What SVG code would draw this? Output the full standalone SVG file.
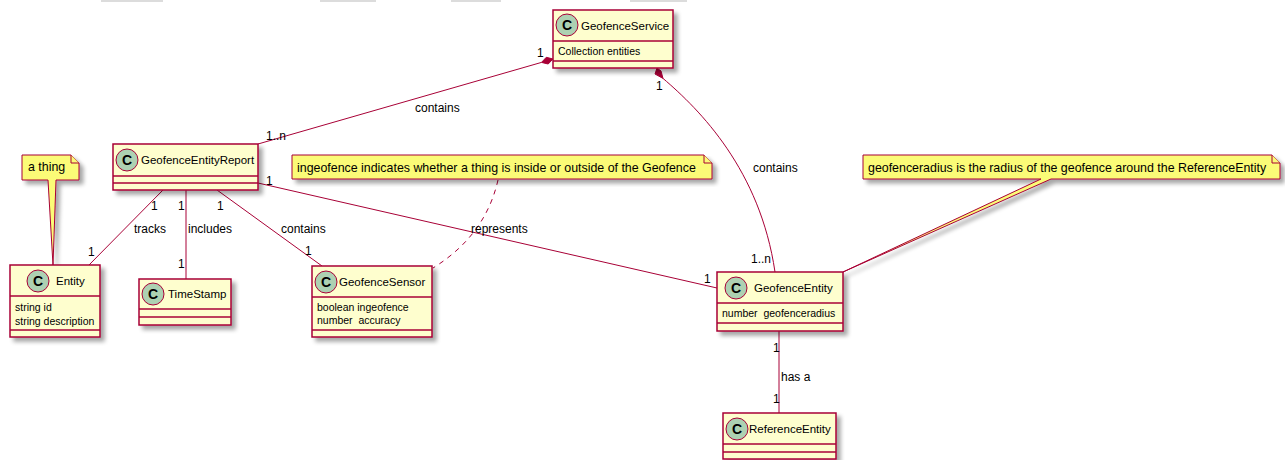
<svg xmlns="http://www.w3.org/2000/svg" width="1285" height="460" viewBox="0 0 1285 460">
  <defs>
    <filter id="shadow" x="-10%" y="-10%" width="130%" height="140%">
      <feGaussianBlur in="SourceAlpha" stdDeviation="2"/>
      <feOffset dx="4" dy="4" result="off"/>
      <feComponentTransfer><feFuncA type="linear" slope="0.35"/></feComponentTransfer>
      <feMerge><feMergeNode/><feMergeNode in="SourceGraphic"/></feMerge>
    </filter>
  </defs>
  <style>
    text { font-family: "Liberation Sans", Arial, sans-serif; fill: #000; }
    .box { fill: #FEFECE; stroke: #A80036; stroke-width: 1.5; }
    .sep { stroke: #A80036; stroke-width: 1.5; }
    .badge { fill: #ADD1B2; stroke: #A80036; stroke-width: 1; }
    .badge-letter { font-size: 14px; font-weight: bold; text-anchor: middle; }
    .name { font-size: 11.5px; }
    .attr { font-size: 10.5px; white-space: pre; }
    .note { fill: #FBFB77; stroke: #A80036; stroke-width: 1; }
    .note-text { font-size: 12.4px; }
    .edge { fill: none; stroke: #A80036; stroke-width: 1; }
    .dashed { stroke-dasharray: 5 5; }
    .diamond { fill: #A80036; stroke: #A80036; stroke-width: 1; }
    .lbl { font-size: 12px; }
    .ghost { fill: #DCDCDC; }
  </style>

  <!-- faint strips along the top edge -->
  <rect class="ghost" x="101" y="0" width="62" height="2"/>
  <rect class="ghost" x="320" y="0" width="56" height="2"/>
  <rect class="ghost" x="451" y="0" width="50" height="2"/>
  <rect class="ghost" x="630" y="0" width="57" height="2"/>

  <!-- associations -->
  <g id="connectors">
    <path class="edge" d="M258,144 L541.5,62.4"/>
    <polygon class="diamond" points="553,59 548.2,64 541.5,62.4 546.3,57.3"/>
    <path class="edge" d="M663,78.4 C700,110 760,170 775,272"/>
    <polygon class="diamond" points="657,68 661,71 663,78.4 655,74"/>
    <path class="edge" d="M163,190 L89,265"/>
    <path class="edge" d="M186,190 L186,279"/>
    <path class="edge" d="M217,190 L322,266"/>
    <path class="edge" d="M258,183 L717,288"/>
    <path class="edge" d="M779,331 L779,413"/>
    <path class="edge dashed" d="M498,180 C490,215 470,245 433,268"/>

    <text class="lbl" x="537" y="57">1</text>
    <text class="lbl" x="266" y="140">1..n</text>
    <text class="lbl" x="415" y="112">contains</text>
    <text class="lbl" x="656" y="90">1</text>
    <text class="lbl" x="753" y="172">contains</text>
    <text class="lbl" x="751" y="263">1..n</text>
    <text class="lbl" x="266" y="185">1</text>
    <text class="lbl" x="471" y="233">represents</text>
    <text class="lbl" x="704" y="283">1</text>
    <text class="lbl" x="151" y="210">1</text>
    <text class="lbl" x="134" y="233">tracks</text>
    <text class="lbl" x="88" y="256">1</text>
    <text class="lbl" x="178" y="210">1</text>
    <text class="lbl" x="188" y="233">includes</text>
    <text class="lbl" x="178" y="268">1</text>
    <text class="lbl" x="217" y="210">1</text>
    <text class="lbl" x="281" y="233">contains</text>
    <text class="lbl" x="305" y="255">1</text>
    <text class="lbl" x="773" y="352">1</text>
    <text class="lbl" x="781" y="381">has a</text>
    <text class="lbl" x="773" y="403">1</text>
  </g>

  <!-- notes -->
  <g id="note-thing">
    <path class="note" filter="url(#shadow)" d="M22,155 L71,155 L79,163 L79,180 L56,180 L53,265 L48,180 L22,180 Z"/>
    <path class="note" d="M71,155 L71,163 L79,163"/>
    <text class="note-text" x="28" y="171">a thing</text>
  </g>
  <g id="note-ingeofence">
    <path class="note" filter="url(#shadow)" d="M292,155 L704,155 L712,163 L712,179 L292,179 Z"/>
    <path class="note" d="M704,155 L704,163 L712,163"/>
    <text class="note-text" x="297" y="172">ingeofence indicates whether a thing is inside or outside of the Geofence</text>
  </g>
  <g id="note-geofenceradius">
    <path class="note" filter="url(#shadow)" d="M863,155 L1272,155 L1280,163 L1280,179 L1051,179 L843,272 L1041,179 L863,179 Z"/>
    <path class="note" d="M1272,155 L1272,163 L1280,163"/>
    <text class="note-text" x="868" y="172">geofenceradius is the radius of the geofence around the ReferenceEntity</text>
  </g>

  <!-- classes -->
  <g id="GeofenceService">
    <rect class="box" filter="url(#shadow)" x="553" y="10" width="120" height="58"/>
    <line class="sep" x1="553" y1="41" x2="673" y2="41"/>
    <line class="sep" x1="553" y1="61" x2="673" y2="61"/>
    <circle class="badge" cx="567" cy="25" r="11"/>
    <text class="badge-letter" x="567" y="30">C</text>
    <text class="name" x="581" y="29.5">GeofenceService</text>
    <text class="attr" x="558" y="55">Collection entities</text>
  </g>

  <g id="GeofenceEntityReport">
    <rect class="box" filter="url(#shadow)" x="113" y="144" width="145" height="46"/>
    <line class="sep" x1="113" y1="176" x2="258" y2="176"/>
    <line class="sep" x1="113" y1="183" x2="258" y2="183"/>
    <circle class="badge" cx="127" cy="160" r="11"/>
    <text class="badge-letter" x="127" y="165">C</text>
    <text class="name" x="141" y="164">GeofenceEntityReport</text>
  </g>

  <g id="Entity">
    <rect class="box" filter="url(#shadow)" x="10" y="265" width="90" height="72"/>
    <line class="sep" x1="10" y1="296" x2="100" y2="296"/>
    <line class="sep" x1="10" y1="330" x2="100" y2="330"/>
    <circle class="badge" cx="38" cy="281" r="11"/>
    <text class="badge-letter" x="38" y="286">C</text>
    <text class="name" x="56" y="285">Entity</text>
    <text class="attr" x="15" y="311">string id</text>
    <text class="attr" x="15" y="325">string description</text>
  </g>

  <g id="TimeStamp">
    <rect class="box" filter="url(#shadow)" x="139" y="279" width="92" height="46"/>
    <line class="sep" x1="139" y1="309" x2="231" y2="309"/>
    <line class="sep" x1="139" y1="317" x2="231" y2="317"/>
    <circle class="badge" cx="153" cy="294" r="11"/>
    <text class="badge-letter" x="153" y="299">C</text>
    <text class="name" x="168" y="298">TimeStamp</text>
  </g>

  <g id="GeofenceSensor">
    <rect class="box" filter="url(#shadow)" x="312" y="266" width="120" height="71"/>
    <line class="sep" x1="312" y1="297" x2="432" y2="297"/>
    <line class="sep" x1="312" y1="330" x2="432" y2="330"/>
    <circle class="badge" cx="326" cy="282" r="11"/>
    <text class="badge-letter" x="326" y="287">C</text>
    <text class="name" x="339" y="286">GeofenceSensor</text>
    <text class="attr" x="317" y="311">boolean ingeofence</text>
    <text class="attr" x="317" y="324">number  accuracy</text>
  </g>

  <g id="GeofenceEntity">
    <rect class="box" filter="url(#shadow)" x="717" y="272" width="126" height="59"/>
    <line class="sep" x1="717" y1="303" x2="843" y2="303"/>
    <line class="sep" x1="717" y1="323" x2="843" y2="323"/>
    <circle class="badge" cx="736" cy="288" r="11"/>
    <text class="badge-letter" x="736" y="293">C</text>
    <text class="name" x="754" y="292">GeofenceEntity</text>
    <text class="attr" x="722" y="317">number  geofenceradius</text>
  </g>

  <g id="ReferenceEntity">
    <rect class="box" filter="url(#shadow)" x="723" y="413" width="113" height="46"/>
    <line class="sep" x1="723" y1="444" x2="836" y2="444"/>
    <line class="sep" x1="723" y1="452" x2="836" y2="452"/>
    <circle class="badge" cx="737" cy="429" r="11"/>
    <text class="badge-letter" x="737" y="434">C</text>
    <text class="name" x="749" y="433">ReferenceEntity</text>
  </g>
</svg>
